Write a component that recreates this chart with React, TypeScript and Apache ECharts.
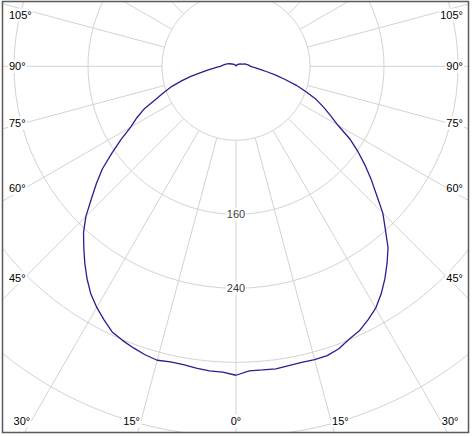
import React, { useEffect, useRef } from "react";
import * as echarts from "echarts";

// Gamma angles (deg from nadir) and luminous intensity values (cd/klm)
const ANGLES = [
  0, 2.5, 5, 7.5, 10, 12.5, 15, 17.5, 20, 22.5, 25, 27.5, 30, 32.5, 35, 37.5,
  40, 42.5, 45, 47.5, 50, 52.5, 55, 57.5, 60, 62.5, 65, 67.5, 70, 72.5, 75,
  77.5, 80, 82.5, 85, 87.5, 90, 95, 100, 105, 110, 120, 135, 150, 165, 180,
];
const LEFT_VALUES = [
  334, 331, 330.5, 329, 327.6, 327.3, 329, 327, 324, 320.7, 316.8, 309, 301,
  292, 280.7, 268.5, 256, 244, 229.5, 212, 197, 182, 164, 147.5, 131.5, 121,
  110, 94.5, 83, 73, 61, 50, 38, 31, 24.6, 20.5, 17, 14, 12, 10, 8, 5, 3, 1.5,
  0.5, 0,
];
const RIGHT_VALUES = [
  334, 329.5, 329.5, 330, 328.5, 327.8, 328.3, 328, 325, 319.5, 315.5, 309,
  302, 292, 280.6, 268.3, 255.7, 239, 224.5, 206.3, 191, 176, 161, 145.7, 127,
  115, 104.4, 94, 81, 68.4, 55, 44, 34, 27, 22, 18.5, 16, 13.7, 11.5, 10, 7, 5,
  3, 1.5, 0.5, 0,
];
const RING_LABELS = [160, 240];
const ANGLE_LABELS = [0, 15, 30, 45, 60, 75, 90, 105];

const W = 472;
const H = 437;
const CX = 236;
const CY = 66.3;
const R_INNER = 74;
const R_OUTER = 444;
const RING_STEP = 80;
const R_MAX = 480;
const FONT_FAMILY = "'Liberation Sans', Arial, sans-serif";
const FONT = "11px " + FONT_FAMILY;
const GRID_COLOR = "#d3d3d3";
const CURVE_COLOR = "#2c1d8e";
const BOX = { x: 2.5, y: 1.5, w: 466, h: 431 };

function measure(text: string): number {
  const c = document.createElement("canvas");
  const ctx = c.getContext("2d");
  if (!ctx) return text.length * 6;
  ctx.font = FONT;
  return ctx.measureText(text).width;
}

function angleLabelGraphics() {
  const out: any[] = [];
  const sideMargin = 8;
  const bottomY = 421;
  const topMinY = 15;
  ANGLE_LABELS.forEach((deg) => {
    const sides = deg === 0 ? [0] : [-1, 1];
    sides.forEach((side) => {
      const text = deg + "°";
      const w = measure(text);
      const th = (deg * Math.PI) / 180;
      const s = Math.sin(th);
      const c = Math.cos(th);
      if (deg === 0) {
        out.push(makeText(text, CX, bottomY, "center"));
        return;
      }
      // side label: text between margin and ray
      const edgeX = side < 0 ? sideMargin + w : W - sideMargin - w;
      const t = Math.abs(edgeX - CX) / s;
      let y = CY + t * c;
      if (y <= bottomY) {
        y = Math.max(y, topMinY);
        const x = side < 0 ? sideMargin : W - sideMargin;
        out.push(makeText(text, x, y, side < 0 ? "left" : "right"));
      } else {
        const tb = (bottomY - CY) / c;
        const x = CX + side * tb * s;
        out.push(makeText(text, x, bottomY, side < 0 ? "right" : "left"));
      }
    });
  });
  return out;
}

function makeText(text: string, x: number, y: number, align: string) {
  return {
    type: "text",
    z: 50,
    x,
    y,
    silent: true,
    style: {
      text,
      fill: "#000",
      font: FONT,
      align,
      textAlign: align,
      verticalAlign: "middle",
      textVerticalAlign: "middle",
      backgroundColor: "#fff",
      padding: [1, 1],
    },
  };
}

export default function App() {
  const ref = useRef<HTMLDivElement>(null);

  useEffect(() => {
    if (!ref.current) return;
    const chart = echarts.init(ref.current, undefined, { renderer: "svg" });

    const curve: number[][] = [];
    for (let i = ANGLES.length - 1; i >= 0; i--) {
      curve.push([RIGHT_VALUES[i], 360 - ANGLES[i]]);
    }
    for (let i = 0; i < ANGLES.length; i++) {
      curve.push([LEFT_VALUES[i], ANGLES[i]]);
    }

    const option: any = {
      animation: false,
      backgroundColor: "#fff",
      polar: [
        { center: [CX, CY], radius: [R_INNER, R_OUTER] },
        { center: [CX, CY], radius: [0, R_OUTER] },
      ],
      angleAxis: [
        {
          polarIndex: 0,
          type: "value",
          min: 0,
          max: 360,
          interval: 15,
          startAngle: -90,
          clockwise: true,
          axisLine: { show: false },
          axisTick: { show: false },
          axisLabel: { show: false },
          splitLine: { show: true, lineStyle: { color: GRID_COLOR, width: 1 } },
        },
        {
          polarIndex: 1,
          type: "value",
          min: 0,
          max: 360,
          startAngle: -90,
          clockwise: true,
          show: false,
        },
      ],
      radiusAxis: [
        {
          polarIndex: 0,
          type: "value",
          min: RING_STEP,
          max: R_MAX,
          interval: RING_STEP,
          axisLine: { show: false },
          axisTick: { show: false },
          axisLabel: { show: false },
          splitLine: { show: true, lineStyle: { color: GRID_COLOR, width: 1 } },
        },
        {
          polarIndex: 1,
          type: "value",
          min: 0,
          max: R_MAX,
          show: false,
        },
      ],
      series: [
        {
          type: "line",
          coordinateSystem: "polar",
          polarIndex: 1,
          data: curve,
          symbol: "none",
          lineStyle: { color: CURVE_COLOR, width: 1.3 },
          z: 3,
          silent: true,
        },
        {
          type: "scatter",
          coordinateSystem: "polar",
          polarIndex: 1,
          symbolSize: 1,
          itemStyle: { color: "transparent" },
          data: RING_LABELS.map((v) => [v, 0]),
          label: {
            show: true,
            position: "inside",
            formatter: (p: any) => String(p.value[0]),
            color: "#000",
            fontFamily: FONT_FAMILY,
            fontSize: 11,
            backgroundColor: "#fff",
            padding: [1, 1],
          },
          z: 4,
          silent: true,
        },
      ],
      graphic: [
        ...angleLabelGraphics(),
        { type: "rect", z: 90, silent: true, shape: { x: 0, y: 0, width: BOX.x, height: H }, style: { fill: "#fff" } },
        { type: "rect", z: 90, silent: true, shape: { x: BOX.x + BOX.w, y: 0, width: W, height: H }, style: { fill: "#fff" } },
        { type: "rect", z: 90, silent: true, shape: { x: 0, y: 0, width: W, height: BOX.y }, style: { fill: "#fff" } },
        { type: "rect", z: 90, silent: true, shape: { x: 0, y: BOX.y + BOX.h, width: W, height: H }, style: { fill: "#fff" } },
        {
          type: "rect",
          z: 100,
          silent: true,
          shape: { x: BOX.x, y: BOX.y, width: BOX.w, height: BOX.h },
          style: { fill: "none", stroke: "#5a5a5a", lineWidth: 1.5 },
        },
      ],
    };

    chart.setOption(option);
    return () => chart.dispose();
  }, []);

  return (
    <div
      ref={ref}
      style={{ position: "absolute", left: 0, top: 0, width: W, height: H, background: "#fff" }}
    />
  );
}
